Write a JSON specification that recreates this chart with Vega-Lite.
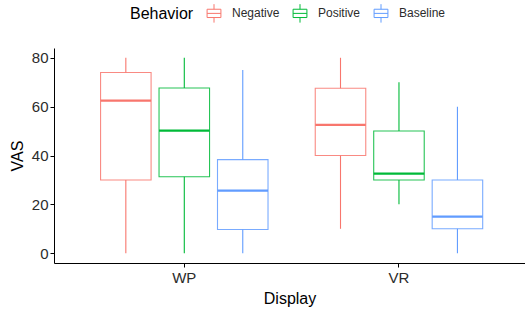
{
  "$schema": "https://vega.github.io/schema/vega-lite/v6.json",
  "width": 471,
  "height": 215,
  "autosize": {"type": "none"},
  "padding": {"left": 54, "top": 48, "right": 0, "bottom": 47},
  "background": "white",
  "config": {
    "view": {"stroke": null},
    "font": "Liberation Sans",
    "axis": {
      "domainColor": "#000000",
      "tickColor": "#000000",
      "tickSize": 4,
      "labelColor": "#2b2b2b",
      "labelFontSize": 15,
      "titleFontSize": 16,
      "titleFontWeight": "normal",
      "titleColor": "#000000",
      "grid": false
    }
  },
  "data": {
    "values": [
      {"Display": "WP", "Behavior": "Negative", "min": 0, "q1": 30, "median": 62.5, "q3": 74, "max": 80},
      {"Display": "WP", "Behavior": "Positive", "min": 0, "q1": 31.3, "median": 50.2, "q3": 67.6, "max": 80},
      {"Display": "WP", "Behavior": "Baseline", "min": 0, "q1": 9.7, "median": 25.6, "q3": 38.3, "max": 75},
      {"Display": "VR", "Behavior": "Negative", "min": 10, "q1": 40, "median": 52.5, "q3": 67.5, "max": 80},
      {"Display": "VR", "Behavior": "Positive", "min": 20, "q1": 30, "median": 32.6, "q3": 50, "max": 70},
      {"Display": "VR", "Behavior": "Baseline", "min": 0, "q1": 10, "median": 15, "q3": 30, "max": 60}
    ]
  },
  "encoding": {
    "x": {
      "field": "Display",
      "type": "nominal",
      "sort": ["WP", "VR"],
      "scale": {"paddingInner": 0.22, "paddingOuter": 0.207, "align": 0.524},
      "axis": {"labelAngle": 0, "labelPadding": 3, "titlePadding": 5}
    },
    "xOffset": {
      "field": "Behavior",
      "type": "nominal",
      "sort": ["Negative", "Positive", "Baseline"],
      "scale": {"paddingInner": 0.136, "paddingOuter": 0}
    },
    "stroke": {
      "field": "Behavior",
      "type": "nominal",
      "sort": ["Negative", "Positive", "Baseline"],
      "scale": {"domain": ["Negative", "Positive", "Baseline"], "range": ["#F8766D", "#00BA38", "#619CFF"]},
      "legend": {
        "orient": "none",
        "legendX": 76,
        "legendY": -45,
        "direction": "horizontal",
        "titleOrient": "left",
        "titleFontSize": 16,
        "titleFontWeight": "normal",
        "titleColor": "#000000",
        "titlePadding": 10,
        "labelFontSize": 12,
        "labelColor": "#2b2b2b",
        "labelOffset": 8,
        "columnPadding": 10,
        "symbolType": "M-0.75,-0.45H0.75V0.45H-0.75Z M-0.75,0H0.75 M0,-0.45V-1 M0,0.45V1",
        "symbolSize": 340,
        "symbolFillColor": "white",
        "symbolStrokeWidth": 1
      }
    }
  },
  "layer": [
    {
      "mark": {"type": "rule", "strokeWidth": 1.1},
      "encoding": {
        "y": {"field": "min", "type": "quantitative", "scale": {"domain": [-4, 84], "nice": false, "zero": false},
              "axis": {"title": "VAS", "values": [0, 20, 40, 60, 80], "labelPadding": 2, "titlePadding": 6}},
        "y2": {"field": "max"}
      }
    },
    {
      "mark": {"type": "bar", "fill": "white", "strokeWidth": 1.1, "strokeOpacity": 0.85},
      "encoding": {
        "y": {"field": "q1", "type": "quantitative"},
        "y2": {"field": "q3"}
      }
    },
    {
      "mark": {"type": "bar", "fill": "white", "strokeWidth": 2.2},
      "encoding": {
        "y": {"field": "median", "type": "quantitative"},
        "y2": {"field": "median"}
      }
    }
  ]
}
